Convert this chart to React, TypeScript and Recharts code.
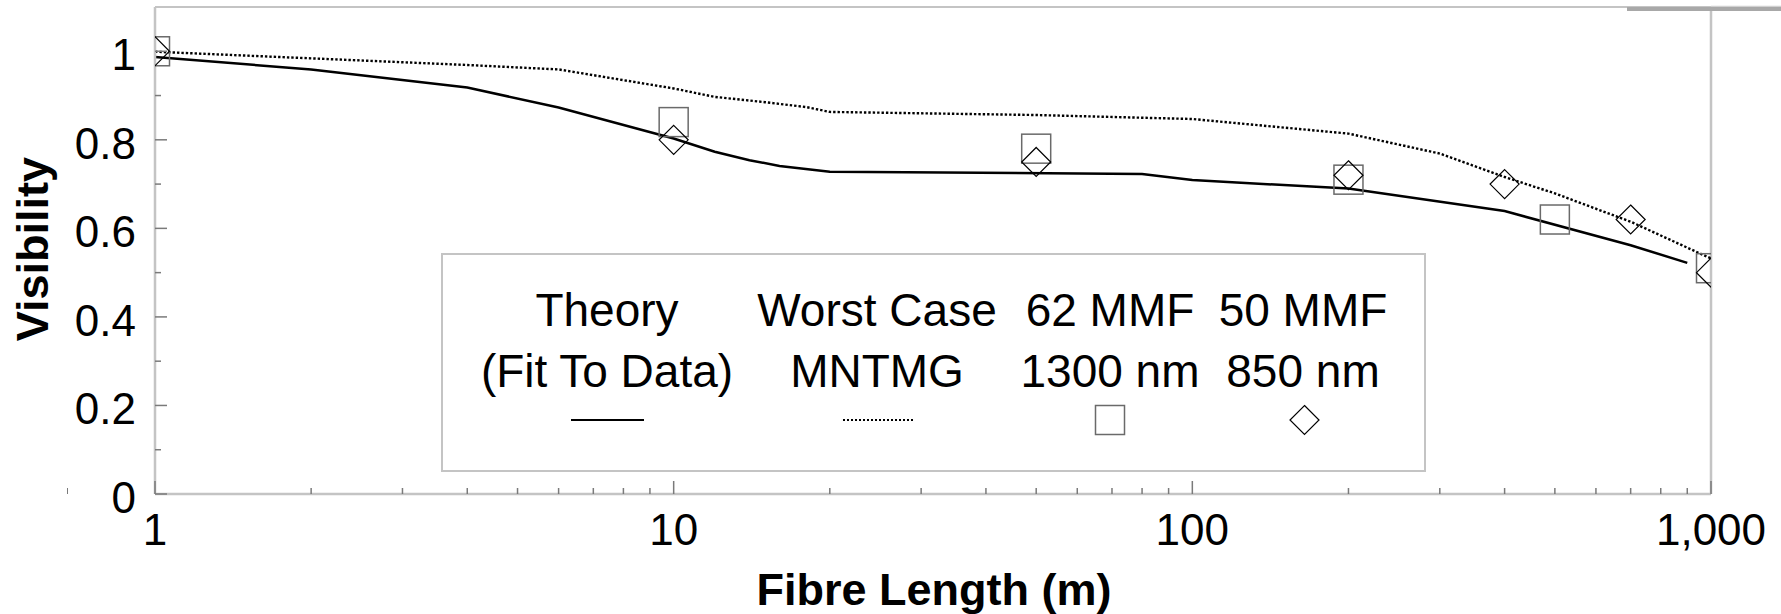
import React from 'react';
import { ComposedChart, Line, Scatter, XAxis, YAxis, ReferenceLine, Legend } from 'recharts';

// ---- data ----
const theoryX = [1, 2, 4, 6, 10, 12, 14, 16, 20, 80, 100, 200, 400, 700, 900];
const theoryY = [0.987, 0.959, 0.918, 0.873, 0.803, 0.773, 0.754, 0.741, 0.728, 0.723, 0.709, 0.69, 0.639, 0.562, 0.522];

const worstX = [1, 2, 4, 6, 10, 12, 15, 18, 20, 50, 100, 200, 300, 400, 500, 700, 1000];
const worstY = [0.999, 0.984, 0.969, 0.959, 0.916, 0.897, 0.885, 0.874, 0.863, 0.856, 0.847, 0.814, 0.769, 0.716, 0.679, 0.615, 0.532];

const mmf62X = [1, 10, 50, 200, 500, 1000];
const mmf62Y = [1.0, 0.84, 0.78, 0.71, 0.62, 0.51];

const mmf50X = [1, 10, 50, 200, 400, 700, 1000];
const mmf50Y = [1.0, 0.8, 0.75, 0.72, 0.7, 0.62, 0.5];

const xTicks = [1, 2, 3, 4, 5, 6, 7, 8, 9, 10, 20, 30, 40, 50, 60, 70, 80, 90, 100, 200, 300, 400, 500, 600, 700, 800, 900, 1000];
const xMajorTicks = [1, 10, 100, 1000];
const xMajorLabels = ['1', '10', '100', '1,000'];

const yTicks = [0, 0.1, 0.2, 0.3, 0.4, 0.5, 0.6, 0.7, 0.8, 0.9, 1.0];
const yMajorTicks = [0, 0.2, 0.4, 0.6, 0.8, 1.0];
const yMajorLabels = ['0', '0.2', '0.4', '0.6', '0.8', '1'];

const legendLine1 = ['Theory', 'Worst Case', '62 MMF', '50 MMF'];
const legendLine2 = ['(Fit To Data)', 'MNTMG', '1300 nm', '850 nm'];

const toPoints = (xs: number[], ys: number[]) => xs.map((x, i) => ({ x, y: ys[i] }));
const theoryData = toPoints(theoryX, theoryY);
const worstData = toPoints(worstX, worstY);
const mmf62Data = toPoints(mmf62X, mmf62Y);
const mmf50Data = toPoints(mmf50X, mmf50Y);

const FONT = '"Liberation Sans", Arial, Helvetica, sans-serif';
const TICK_COLOR = '#7a7a7a';
const FRAME_COLOR = '#c4c4c4';

const XTick = (props: any) => {
  const { x, y, payload } = props;
  const v = payload.value;
  const idx = xMajorTicks.indexOf(v);
  const major = idx >= 0;
  return (
    <g>
      <line x1={x} x2={x} y1={y} y2={y - (major ? 13 : 6)} stroke={TICK_COLOR} strokeWidth={1.5} />
      {major && (
        <text x={x} y={y + 51} textAnchor="middle" fontSize={44} fontFamily={FONT} fill="#000">
          {xMajorLabels[idx]}
        </text>
      )}
    </g>
  );
};

const YTick = (props: any) => {
  const { x, y, payload } = props;
  const v = payload.value;
  const idx = yMajorTicks.findIndex((t) => Math.abs(t - v) < 1e-9);
  const major = idx >= 0;
  return (
    <g>
      <line x1={x} x2={x + (major ? 12 : 6)} y1={y} y2={y} stroke={TICK_COLOR} strokeWidth={1.5} />
      {major && (
        <text x={x - 19} y={y + 19} textAnchor="end" fontSize={44} fontFamily={FONT} fill="#000">
          {yMajorLabels[idx]}
        </text>
      )}
    </g>
  );
};

const SquareShape = (props: any) => {
  const { cx, cy } = props;
  return <rect x={cx - 14.5} y={cy - 14.5} width={29} height={29} fill="none" stroke="#6a6a6a" strokeWidth={1.5} />;
};

const DiamondShape = (props: any) => {
  const { cx, cy } = props;
  const h = 14.5;
  return (
    <path
      d={`M${cx},${cy - h} L${cx + h},${cy} L${cx},${cy + h} L${cx - h},${cy} Z`}
      fill="none"
      stroke="#000"
      strokeWidth={1.2}
    />
  );
};

const colCenters = [166, 436, 669, 862];

const LegendBox = () => (
  <svg width={985} height={219} style={{ display: 'block' }}>
    <rect x={1} y={1} width={983} height={217} fill="#fff" stroke={FRAME_COLOR} strokeWidth={2} />
    {legendLine1.map((t, i) => (
      <text key={'a' + i} x={colCenters[i]} y={73} textAnchor="middle" fontSize={46} fontFamily={FONT} fill="#000">
        {t}
      </text>
    ))}
    {legendLine2.map((t, i) => (
      <text key={'b' + i} x={colCenters[i]} y={134} textAnchor="middle" fontSize={46} fontFamily={FONT} fill="#000">
        {t}
      </text>
    ))}
    <line x1={130} x2={203} y1={167} y2={167} stroke="#000" strokeWidth={2} />
    <line x1={402} x2={472} y1={167} y2={167} stroke="#000" strokeWidth={2} strokeDasharray="2 2" />
    <rect x={654.5} y={152.5} width={29} height={29} fill="none" stroke="#6a6a6a" strokeWidth={1.5} />
    <path d="M863.5,152.5 L878,167 L863.5,181.5 L849,167 Z" fill="none" stroke="#000" strokeWidth={1.2} />
  </svg>
);

export default function App() {
  return (
    <div style={{ position: 'absolute', left: 0, top: 0, width: 1781, height: 614, background: '#fff' }}>
      <ComposedChart width={1781} height={614} margin={{ top: 7, right: 70, bottom: 0, left: 0 }}>
        <XAxis
          dataKey="x"
          type="number"
          scale="log"
          domain={[1, 1000]}
          allowDataOverflow
          ticks={xTicks}
          interval={0}
          height={120}
          tickSize={0}
          tickMargin={0}
          tick={<XTick />}
          tickLine={false}
          axisLine={{ stroke: FRAME_COLOR, strokeWidth: 2.5 }}
        />
        <YAxis
          dataKey="y"
          type="number"
          domain={[0, 1.1]}
          allowDataOverflow
          ticks={yTicks}
          interval={0}
          width={155}
          tickSize={0}
          tickMargin={0}
          tick={<YTick />}
          tickLine={false}
          axisLine={{ stroke: FRAME_COLOR, strokeWidth: 2.5 }}
        />
        <ReferenceLine y={1.1} stroke={FRAME_COLOR} strokeWidth={2} />
        <ReferenceLine x={1000} stroke={FRAME_COLOR} strokeWidth={2.5} />
        <Legend
          layout="horizontal"
          verticalAlign="middle"
          align="center"
          width={985}
          height={219}
          wrapperStyle={{ left: 441, top: 253, width: 985, height: 219 }}
          content={() => <LegendBox />}
        />
        <Line
          data={worstData}
          dataKey="y"
          type="linear"
          stroke="#000"
          strokeWidth={2.4}
          strokeDasharray="2.4 2"
          dot={false}
          activeDot={false}
          isAnimationActive={false}
        />
        <Line
          data={theoryData}
          dataKey="y"
          type="linear"
          stroke="#000"
          strokeWidth={2.5}
          dot={false}
          activeDot={false}
          isAnimationActive={false}
        />
        <Scatter data={mmf62Data} dataKey="y" shape={<SquareShape />} isAnimationActive={false} />
        <Scatter data={mmf50Data} dataKey="y" shape={<DiamondShape />} isAnimationActive={false} />
      </ComposedChart>
      <svg
        width={1781}
        height={614}
        style={{ position: 'absolute', left: 0, top: 0, pointerEvents: 'none' }}
      >
        <text
          x={48}
          y={249}
          transform="rotate(-90, 48, 249)"
          textAnchor="middle"
          fontSize={45}
          fontWeight="bold"
          fontFamily={FONT}
          fill="#000"
        >
          Visibility
        </text>
        <text x={934} y={605} textAnchor="middle" fontSize={45} fontWeight="bold" fontFamily={FONT} fill="#000">
          Fibre Length (m)
        </text>
        <line x1={1711} x2={1781} y1={6.5} y2={6.5} stroke="#d0d0d0" strokeWidth={1.5} />
        <rect x={1627} y={7} width={154} height={4} fill="#a8a8a8" />
        <line x1={67.5} x2={67.5} y1={488} y2={494} stroke={TICK_COLOR} strokeWidth={1} />
      </svg>
    </div>
  );
}
